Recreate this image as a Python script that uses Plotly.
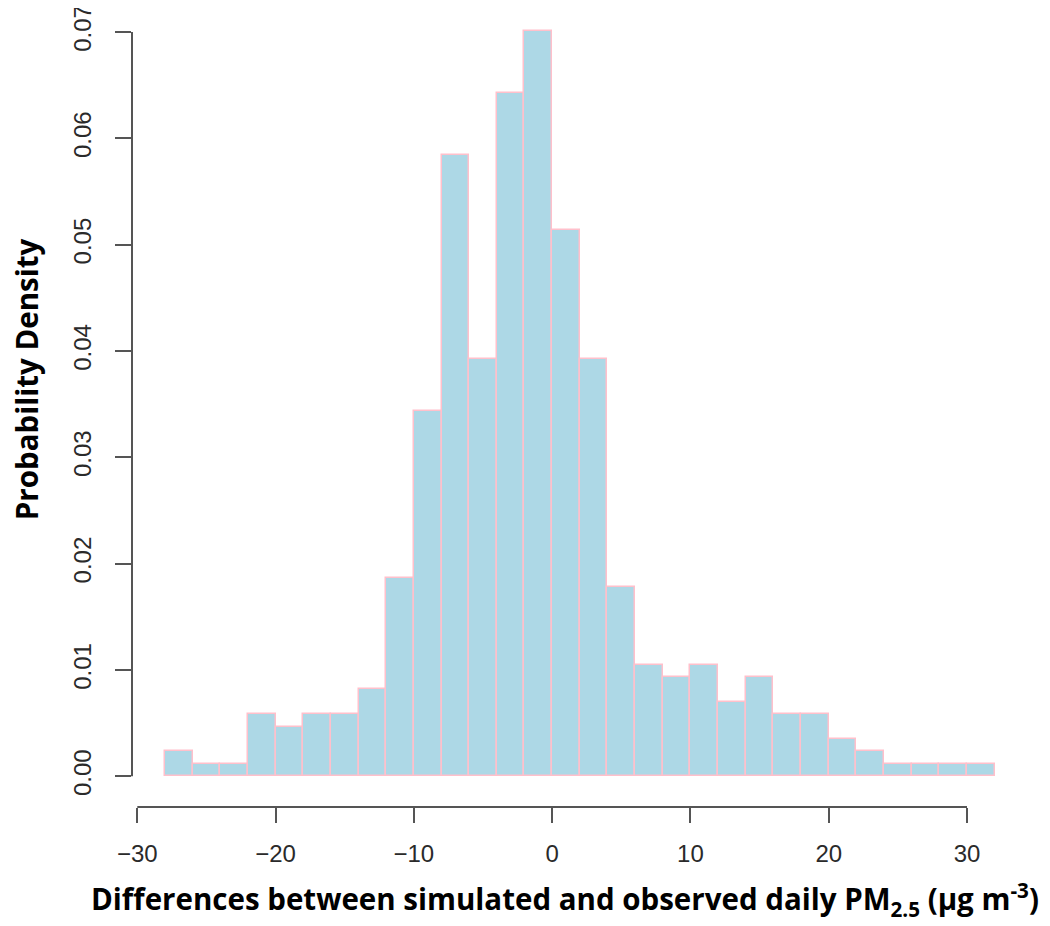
import plotly.graph_objects as go

bin_left = [-28, -26, -24, -22, -20, -18, -16, -14, -12, -10, -8, -6, -4, -2, 0,
            2, 4, 6, 8, 10, 12, 14, 16, 18, 20, 22, 24, 26, 28, 30]
density = [0.00234, 0.00117, 0.00117, 0.00584, 0.00467, 0.00584, 0.00584, 0.00818, 0.01869, 0.03435,
           0.05841, 0.03925, 0.06425, 0.07009, 0.05140, 0.03925, 0.01776, 0.01051, 0.00935, 0.01051,
           0.00701, 0.00935, 0.00584, 0.00584, 0.00350, 0.00234, 0.00117, 0.00117, 0.00117, 0.00117]
bin_width = 2
x_ticks = [-30, -20, -10, 0, 10, 20, 30]
x_tick_text = ["\u221230", "\u221220", "\u221210", "0", "10", "20", "30"]
y_ticks = [0.00, 0.01, 0.02, 0.03, 0.04, 0.05, 0.06, 0.07]
y_tick_text = ["0.00", "0.01", "0.02", "0.03", "0.04", "0.05", "0.06", "0.07"]

centers = [b + bin_width / 2 for b in bin_left]

fig = go.Figure()
fig.add_trace(go.Bar(
    x=centers, y=density, width=[bin_width] * len(centers),
    marker=dict(color="#ADD8E6", line=dict(color="#FFC0CB", width=1.5)),
    showlegend=False, hoverinfo="x+y",
))

tick_font = dict(family="Liberation Sans, Arial, sans-serif", size=24, color="#2a2a2a")
axis_col = "#555555"

fig.update_layout(
    width=1042, height=918,
    margin=dict(l=124, r=50, t=12, b=119, autoexpand=False),
    paper_bgcolor="white", plot_bgcolor="white",
    bargap=0,
    xaxis=dict(range=[-30.383, 32.386], tickvals=x_ticks, ticktext=x_tick_text,
               ticks="outside", ticklen=15, tickwidth=2, tickcolor=axis_col,
               showgrid=False, zeroline=False, showline=False, tickfont=tick_font,
               ticklabelstandoff=10, ticklabeloverflow="allow", automargin=False),
    yaxis=dict(range=[-0.002887, 0.07113], tickvals=y_ticks, ticktext=y_tick_text,
               ticks="outside", ticklen=16, tickwidth=2, tickcolor=axis_col, tickangle=-90,
               showgrid=False, zeroline=False, showline=False, tickfont=tick_font,
               ticklabelstandoff=14, ticklabeloverflow="allow", automargin=False),
    shapes=[
        dict(type="line", xref="x", yref="paper", x0=x_ticks[0], x1=x_ticks[-1], y0=0, y1=0,
             line=dict(color=axis_col, width=2)),
        dict(type="line", xref="paper", yref="y", x0=0, x1=0, y0=y_ticks[0], y1=y_ticks[-1],
             line=dict(color=axis_col, width=2)),
    ],
    annotations=[
        dict(text="<b>Differences between simulated and observed daily PM<sub>2.5</sub> (\u03bcg m<sup>-3</sup>)</b>",
             xref="paper", yref="paper", x=0.4988, y=-0.117, xanchor="center", yanchor="middle",
             showarrow=False, font=dict(family="Open Sans, Lato, sans-serif", size=29.5, color="black")),
        dict(text="<b>Probability Density</b>", xref="paper", yref="paper", x=-0.122, y=0.5437,
             textangle=-90, xanchor="center", yanchor="middle", showarrow=False,
             font=dict(family="Open Sans, Lato, sans-serif", size=29.5, color="black")),
    ],
)

fig.write_html("out.html")
